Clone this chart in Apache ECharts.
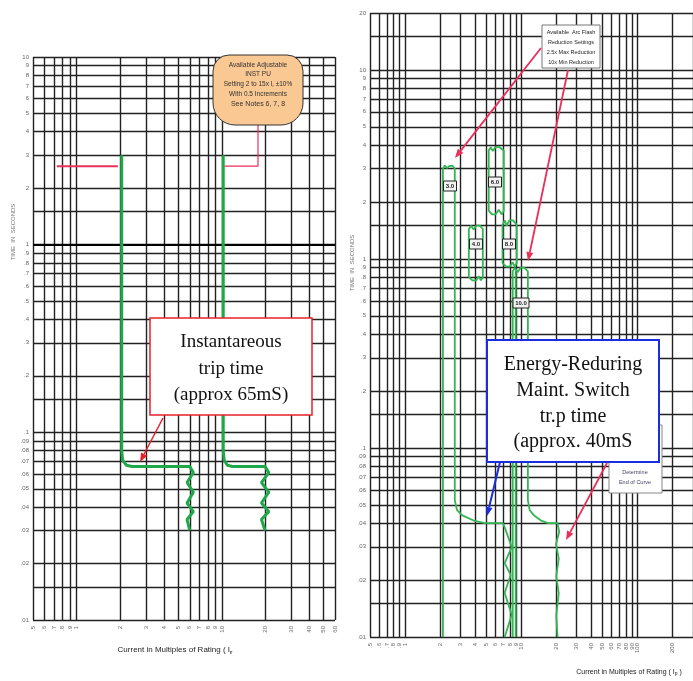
<!DOCTYPE html>
<html>
<head>
<meta charset="utf-8">
<script src="https://cdn.jsdelivr.net/npm/echarts@6/dist/echarts.min.js"></script>
<style>
html,body{margin:0;padding:0;background:#fff;}
#main{width:693px;height:681px;}
</style>
</head>
<body>
<div id="main"></div>
<script>
// ---- grid / tick values (log sheets) ----
var leftXGrid=[0.5,0.6,0.7,0.8,0.9,1,2,3,4,5,6,7,8,9,10,20,30,40,50,60];
var leftYGrid=[0.01,0.015,0.02,0.03,0.04,0.05,0.06,0.07,0.08,0.09,0.1,0.15,0.2,0.3,0.4,0.5,0.6,0.7,0.8,0.9,1,1.5,2,3,4,5,6,7,8,9,10];
var leftYLabels=[0.01,0.02,0.03,0.04,0.05,0.06,0.07,0.08,0.09,0.1,0.2,0.3,0.4,0.5,0.6,0.7,0.8,0.9,1,2,3,4,5,6,7,8,9,10];
var rightXGrid=[0.5,0.6,0.7,0.8,0.9,1,2,3,4,5,6,7,8,9,10,20,30,40,50,60,70,80,90,100,200,300];
var rightXLabels=[0.5,0.6,0.7,0.8,0.9,1,2,3,4,5,6,7,8,9,10,20,30,40,50,60,70,80,90,100,200];
var rightYGrid=[0.01,0.015,0.02,0.03,0.04,0.05,0.06,0.07,0.08,0.09,0.1,0.15,0.2,0.3,0.4,0.5,0.6,0.7,0.8,0.9,1,1.5,2,3,4,5,6,7,8,9,10,15,20];
var rightYLabels=[0.01,0.02,0.03,0.04,0.05,0.06,0.07,0.08,0.09,0.1,0.2,0.3,0.4,0.5,0.6,0.7,0.8,0.9,1,2,3,4,5,6,7,8,9,10,20];

// ---- left sheet curves (current x Ir, seconds) ----
var instCurve1=[[2.04,3.0],[2.04,0.08],[2.07,0.071],[2.2,0.0668],[2.4,0.0658],[6.0,0.0658],[6.35,0.061],[5.75,0.054],[6.35,0.048],[5.75,0.042],[6.35,0.0378],[5.75,0.0343],[6.0,0.030]];
var instCurve2=[[10.2,3.0],[10.2,0.08],[10.35,0.071],[10.9,0.0668],[11.8,0.0658],[19.8,0.0658],[21.0,0.061],[18.7,0.054],[21.0,0.048],[18.7,0.042],[21.0,0.0378],[18.7,0.0343],[19.8,0.030]];
var pickupLine1=[[0.73,2.62],[1.92,2.62]];
var pickupLine2=[[10.4,2.62],[17.7,2.62],[17.7,4.6]];

// ---- right sheet bands ----
var band30=[[2.12,0.01],[2.12,3.0],[2.2,3.12],[2.3,3.02],[2.4,3.1],[2.55,3.12],[2.68,3.0],[2.68,0.053],[2.8,0.047],[3.08,0.0441],[3.98,0.0411],[4.85,0.040],[6.93,0.040],[7.2,0.0381],[8.28,0.0299],[7.2,0.0246],[8.1,0.0213],[7.2,0.0171],[8.28,0.0131],[7.2,0.01]];
var band40=[[3.54,0.80],[3.54,1.44],[3.7,1.5],[3.9,1.43],[4.1,1.5],[4.4,1.5],[4.67,1.44],[4.67,0.80],[4.5,0.77],[4.3,0.81],[4.1,0.77],[3.8,0.77],[3.54,0.80]];
var band60=[[5.25,1.8],[5.25,3.75],[5.45,3.9],[5.7,3.72],[6.0,3.9],[6.5,3.9],[7.07,3.75],[7.07,1.8],[6.8,1.72],[6.4,1.82],[6.0,1.72],[5.6,1.72],[5.25,1.8]];
var band80=[[6.9,0.95],[6.9,1.52],[7.2,1.6],[7.5,1.5],[7.9,1.6],[8.5,1.6],[9.14,1.52],[9.14,0.95],[8.8,0.91],[8.4,0.96],[8.0,0.91],[7.4,0.91],[6.9,0.95]];
var band100=[[8.44,0.01],[8.44,0.86],[8.8,0.9],[9.3,0.85],[9.9,0.9],[10.6,0.9],[11.4,0.86],[11.4,0.053],[11.8,0.047],[12.8,0.0441],[15.0,0.0411],[17.0,0.040],[20.5,0.040],[21.2,0.036],[19.9,0.031],[21.0,0.026],[20.0,0.021],[21.0,0.017],[20.0,0.013],[20.5,0.01]];
var band100b=[[8.96,0.01],[8.96,0.87]];

function fmt(v){
	var s=String(+(+v).toPrecision(3));
	return s.replace(/^0\./,'.');
}

function arrow(x1,y1,x2,y2,color,w){
	var dx=x2-x1,dy=y2-y1,len=Math.sqrt(dx*dx+dy*dy),ux=dx/len,uy=dy/len;
	var hl=9,hw=3.5;
	var bx=x2-ux*hl,by=y2-uy*hl;
	return [
		{type:'line',z:100,shape:{x1:x1,y1:y1,x2:bx,y2:by},style:{stroke:color,lineWidth:w}},
		{type:'polygon',z:100,shape:{points:[[x2,y2],[bx-uy*hw,by+ux*hw],[bx+uy*hw,by-ux*hw]]},style:{fill:color}}
	];
}
function txt(s,x,y,font,color,z){
	return {type:'text',z:z||101,style:{text:s,x:x,y:y,font:font,fill:color,align:'center',verticalAlign:'middle'}};
}
function box(x,y,w,h,stroke,lw,fill,z){
	return {type:'rect',z:z||100,shape:{x:x,y:y,width:w,height:h},style:{fill:fill||'#fff',stroke:stroke,lineWidth:lw}};
}
function tag(s,cx,cy){
	var w=s.length>3?16:13;
	return [box(cx-w/2,cy-5,w,10,'#222',1,'#f2f2f2',60),txt(s,cx,cy,'bold 6px sans-serif','#222',61)];
}

var gridStyle={show:true,lineStyle:{color:'#222',width:1.4}};
function logAxis(idx,min,max,grid,labels,isX){
	return {
		type:'log',logBase:10,gridIndex:idx,min:min,max:max,
		axisLine:{show:false},
		axisTick:{show:false,customValues:grid},
		splitLine:gridStyle,
		axisLabel:{customValues:labels,fontSize:6,color:'#666',margin:isX?6:4,rotate:isX?90:0,formatter:fmt}
	};
}

var graphics=[];
// axis titles
graphics.push({type:'text',z:101,x:13,y:232,rotation:Math.PI/2,style:{text:'TIME  IN  SECONDS',x:0,y:0,font:'6px sans-serif',fill:'#777',align:'center',verticalAlign:'middle'}});
graphics.push({type:'text',z:101,x:352,y:263,rotation:Math.PI/2,style:{text:'TIME  IN  SECONDS',x:0,y:0,font:'6px sans-serif',fill:'#777',align:'center',verticalAlign:'middle'}});
graphics.push({type:'text',z:101,style:{text:'{a|Current in Multiples of Rating ( I}{b|r}',x:175,y:650,align:'center',verticalAlign:'middle',rich:{a:{font:'8px sans-serif',fill:'#222'},b:{font:'bold 6px sans-serif',fill:'#222',padding:[5,0,0,0]}}}});
graphics.push({type:'text',z:101,style:{text:'{a|Current in Multiples of Rating ( I}{b|p}{a| )}',x:629,y:672,align:'center',verticalAlign:'middle',rich:{a:{font:'7px sans-serif',fill:'#222'},b:{font:'5px sans-serif',fill:'#222',padding:[4,0,0,0]}}}});

// INST pickup bubble
graphics.push({type:'rect',z:100,shape:{x:213,y:55,width:90,height:70,r:[16,16,22,22]},style:{fill:'#f9c893',stroke:'#333',lineWidth:1}});
graphics.push(txt('Available Adjustable',258,65,'6.5px sans-serif','#333'));
graphics.push(txt('INST PU',258,74,'6.5px sans-serif','#333'));
graphics.push({type:'text',z:101,style:{text:'{a|Setting 2 to 15x I}{b|r}{a| ±10%}',x:258,y:84,align:'center',verticalAlign:'middle',rich:{a:{font:'6.5px sans-serif',fill:'#333'},b:{font:'4px sans-serif',fill:'#333',padding:[3,0,0,0]}}}});
graphics.push(txt('With 0.5 Increments',258,94,'6.5px sans-serif','#333'));
graphics.push(txt('See Notes 6, 7, 8',258,104,'7px sans-serif','#333'));

// instantaneous callout
graphics.push(box(150,318,162,97,'#e8202a',1.5));
graphics.push(txt('Instantareous',231,342,'19px "Liberation Serif"','#111'));
graphics.push(txt('trip time',231,369,'19px "Liberation Serif"','#111'));
graphics.push(txt('(approx 65mS)',231,395,'19px "Liberation Serif"','#111'));
graphics=graphics.concat(arrow(163,418,140,462,'#e8202a',1.5));

// arc flash settings box
graphics.push(box(542,25,58,43,'#777',1));
graphics.push(txt('Available  Arc Flash',571,32,'5.5px sans-serif','#222'));
graphics.push(txt('Reduction Settings',571,42,'5.5px sans-serif','#222'));
graphics.push(txt('2.5x Max Reduction',571,52,'5.5px sans-serif','#222'));
graphics.push(txt('10x Min Reduction',571,62,'5.5px sans-serif','#222'));
graphics=graphics.concat(arrow(541,48,455,158,'#e8305a',1.8));
graphics=graphics.concat(arrow(568,70,528,261,'#e8305a',1.8));

// band tags
graphics=graphics.concat(tag('3.0',450,186),tag('4.0',476,244),tag('6.0',495,182),tag('8.0',509,244),tag('10.0',521,303));

// determine end of curve box (behind blue callout)
graphics.push(box(609,425,53,68,'#888',1,'#fff',90));
graphics.push(txt('Determine',635,472,'5.5px sans-serif','#446',91));
graphics.push(txt('End of Curve',635,482,'5.5px sans-serif','#446',91));
graphics=graphics.concat(arrow(607,463,566,540,'#e8305a',1.8));

// energy reducing callout
graphics.push(box(487,340,172,122,'#1a2ee0',2));
graphics.push(txt('Energy-Reduring',573,365,'20px "Liberation Serif"','#111'));
graphics.push(txt('Maint. Switch',573,391,'20px "Liberation Serif"','#111'));
graphics.push(txt('tr.p time',573,417,'20px "Liberation Serif"','#111'));
graphics.push(txt('(approx. 40mS',573,442,'20px "Liberation Serif"','#111'));
graphics=graphics.concat(arrow(500,462,487,516,'#1a2ee0',2));

function curve(data,xi,color,w){
	return {type:'line',xAxisIndex:xi,yAxisIndex:xi,data:data,symbol:'none',silent:true,
		lineStyle:{color:color,width:w},z:5};
}

var leftGreen='#1ea84a',rightGreen='#33b552',redLine='#e8305a';
var s1=curve(instCurve1,0,leftGreen,3);
s1.markLine={symbol:'none',silent:true,label:{show:false},lineStyle:{color:'#000',width:2.2,type:'solid'},data:[{yAxis:1}]};

var option={
	animation:false,
	backgroundColor:'#fff',
	grid:[
		{left:33,right:358,top:57,bottom:61},
		{left:370,right:0,top:13,bottom:44}
	],
	xAxis:[
		logAxis(0,0.5,60,leftXGrid,leftXGrid,true),
		logAxis(1,0.5,300,rightXGrid,rightXLabels,true)
	],
	yAxis:[
		logAxis(0,0.01,10,leftYGrid,leftYLabels,false),
		logAxis(1,0.01,20,rightYGrid,rightYLabels,false)
	],
	series:[
		s1,
		curve(instCurve2,0,leftGreen,3),
		curve(pickupLine1,0,redLine,2),
		curve(pickupLine2,0,redLine,1.2),
		curve(band30,1,rightGreen,1.8),
		curve(band40,1,rightGreen,1.8),
		curve(band60,1,rightGreen,1.8),
		curve(band80,1,rightGreen,1.8),
		curve(band100,1,rightGreen,1.8),
		curve(band100b,1,rightGreen,1.8)
	],
	graphic:graphics
};

var myChart=echarts.init(document.getElementById('main'));
myChart.setOption(option);
</script>
</body>
</html>
